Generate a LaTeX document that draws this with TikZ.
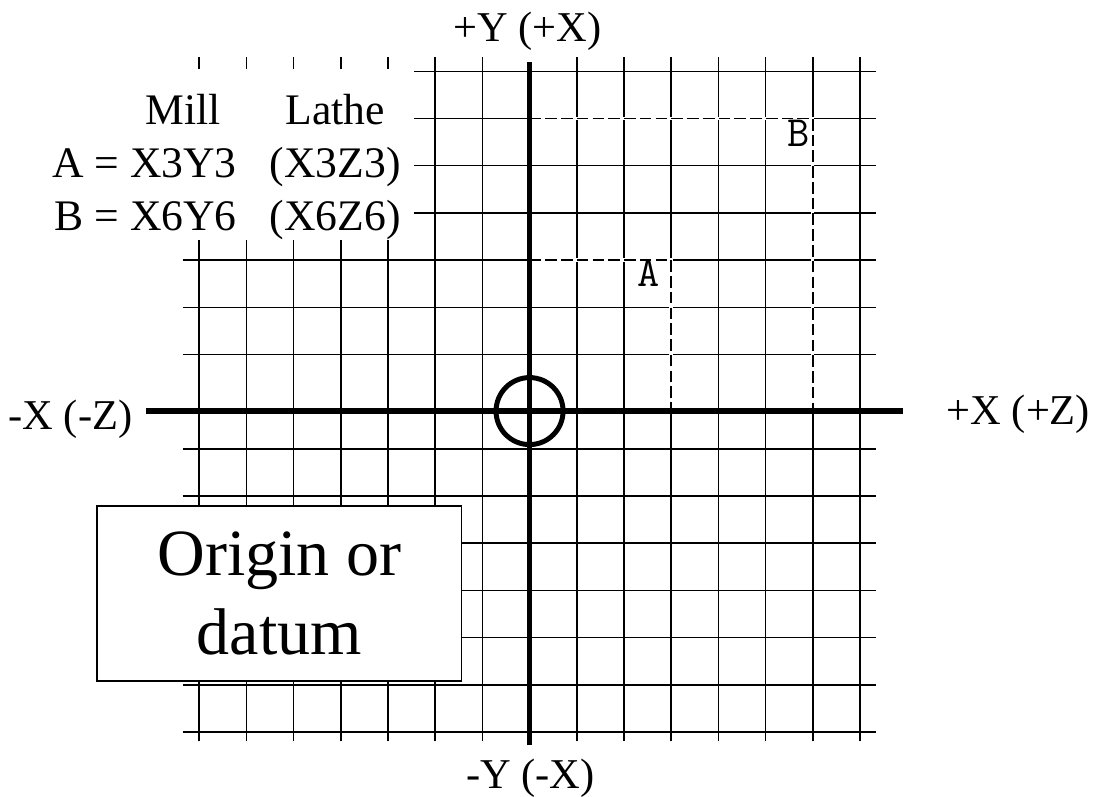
\documentclass[tikz,border=0pt]{standalone}
\usepackage{fontspec}
\setmainfont{Liberation Serif}
\usetikzlibrary{positioning}

\begin{document}
\begin{tikzpicture}[
    gridline/.style={line width=0.9pt},
    axisline/.style={line width=3.2pt},
    coordline/.style={line width=0.9pt, dash pattern=on 7pt off 2.5pt,
        preaction={draw=white, solid, line width=2pt}},
    axislabel/.style={inner sep=0pt, font=\fontsize{25.6}{30}\selectfont},
    ptlabel/.style={inner sep=0pt, font=\ttfamily\fontsize{26}{30}\selectfont}
]
    \useasboundingbox (-11.22,-8.36) rectangle (11.98,8.51);

    % Grid (the middle lines are replaced by the axes)
    \foreach \i in {-7,...,-1,1,2,...,7} {
        \draw[gridline] (\i,-7.2) -- (\i,7.3);
        \draw[gridline] (-7.35,\i) -- (7.35,\i);
    }
    % Blank area behind the coordinate table
    \fill[white] (-7.6,3.42) rectangle (-2.45,7.04);

    % Points A and B with their dashed coordinate lines
    \coordinate (A) at (3,3);
    \coordinate (B) at (6,6);
    \coordinate (Ay) at (0,3);
    \coordinate (Ax) at (3,-0.2);
    \coordinate (By) at (0,6);
    \coordinate (Bx) at (6,-0.2);
    \draw[coordline] (Ay) -- (A) -- (Ax);
    \draw[coordline] (By) -- (B) -- (Bx);
    \node[ptlabel] (labA) at (2.53,2.73) {A};
    \node[ptlabel] (labB) at (5.70,5.69) {B};

    % Axes and origin
    \coordinate (xneg) at (-8.13,-0.2);
    \coordinate (xpos) at (7.91,-0.2);
    \coordinate (yneg) at (0,-7.28);
    \coordinate (ypos) at (0,7.19);
    \draw[axisline] (xneg) -- (xpos);
    \draw[axisline] (yneg) -- (ypos);
    \draw[line width=3pt] (0,-0.2) circle (0.71);

    % Axis labels
    \node[axislabel, anchor=base] (ylab) at (-0.05,7.62) {+Y (+X)};
    \node[axislabel, anchor=base] (ynlab) at (0.02,-8.19) {-Y (-X)};
    \node[axislabel, anchor=base east] (xnlab) at (-8.41,-0.60) {-X (-Z)};
    \node[axislabel, anchor=base west] (xlab) at (8.83,-0.49) {+X (+Z)};

    % Coordinate table
    \node[anchor=base west, inner sep=0pt, font=\fontsize{26.3}{31.8}\selectfont]
        (coords) at (-10.12,3.63) {%
        \begin{tabular}[b]{@{}r@{\ }c@{\hspace{20pt}}c@{}}
              & Mill & Lathe\\
          A = & X3Y3 & (X3Z3)\\
          B = & X6Y6 & (X6Z6)
        \end{tabular}};

    % Origin box
    \node[draw, fill=white, line width=0.7pt, minimum width=7.73cm, minimum height=3.71cm,
        align=center, inner sep=0pt, font=\fontsize{39.8}{47.6}\selectfont]
        (origin) at (-5.30,-4.065) {Origin or\\datum};
\end{tikzpicture}
\end{document}
